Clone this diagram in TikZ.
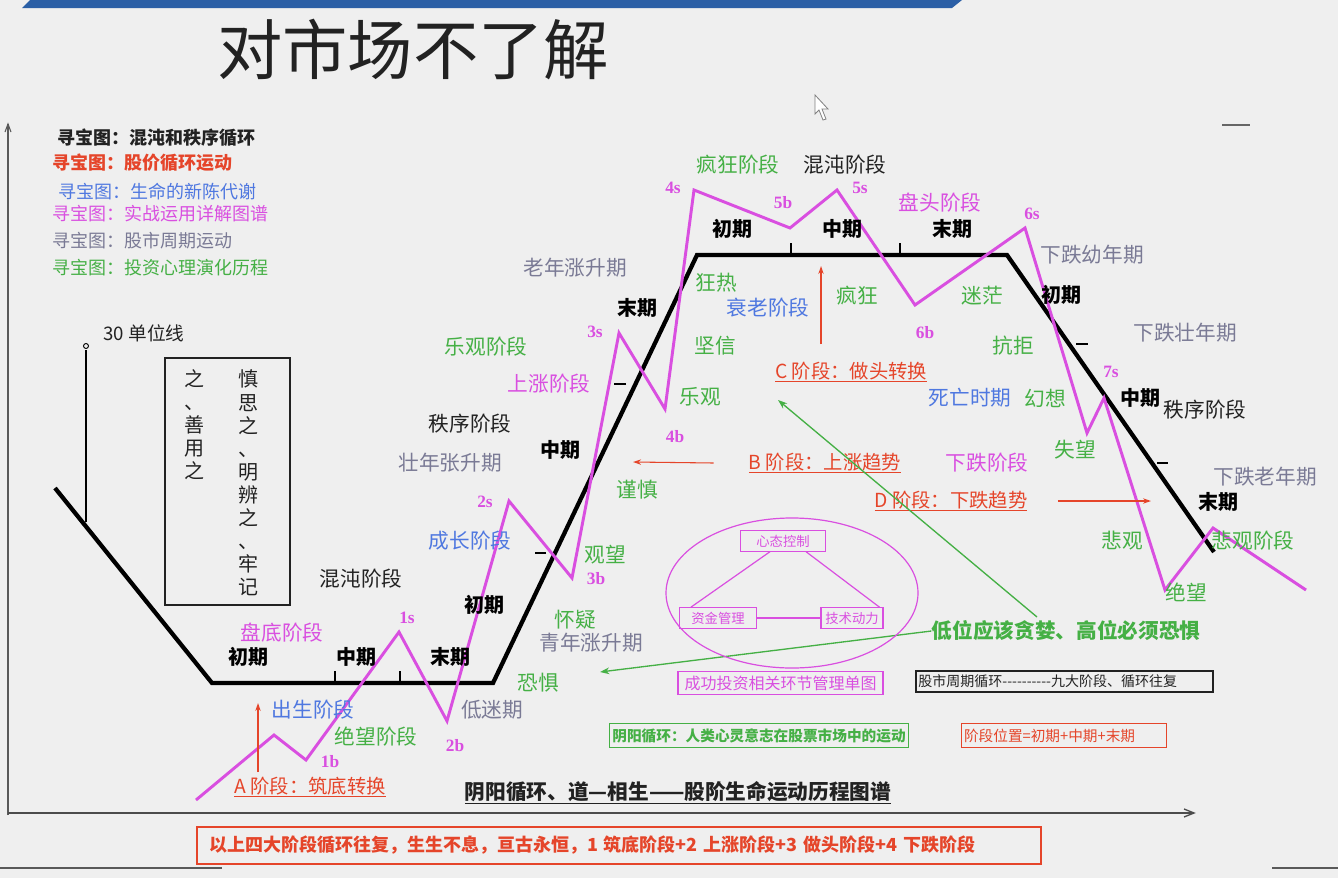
\documentclass[tikz,border=0pt]{standalone}
\usepackage{fontspec}
\setmainfont{Noto Sans CJK SC}
\newfontfamily\latf{Liberation Serif}
\usetikzlibrary{arrows.meta}
\definecolor{bgc}{HTML}{EFEFEF}
\definecolor{barblue}{HTML}{2B5FA6}
\definecolor{mag}{HTML}{D94FE0}
\definecolor{grn}{HTML}{45B045}
\definecolor{blu}{HTML}{4F78E0}
\definecolor{gry}{HTML}{7A7A95}
\definecolor{rd}{HTML}{E5452A}
\definecolor{dk}{HTML}{222222}
\newcommand\myfs[1]{\fontsize{#1}{#1}\selectfont}
\tikzset{
  lbl/.style={inner sep=0pt, font=\myfs{15.5}},
  tgreen/.style={lbl, text=grn},
  tblue/.style={lbl, text=blu},
  tgray/.style={lbl, text=gry},
  tmag/.style={lbl, text=mag},
  tblack/.style={lbl, text=dk},
  tbold/.style={inner sep=0pt, font=\myfs{15}\bfseries, text=black},
  tred/.style={inner sep=0pt, font=\myfs{14.5}, text=rd},
  ptl/.style={inner sep=0pt, font=\latf\myfs{13}\bfseries, text=mag},
  leg/.style={inner sep=0pt, anchor=west, font=\myfs{13.5}},
  magline/.style={draw=mag, line width=2.2pt, line join=miter},
  cycline/.style={draw=black, line width=3.2pt, line join=miter},
  tick/.style={draw=black, line width=1.8pt},
  redarr/.style={draw=rd, line width=0.8pt, -{Stealth[length=6pt,width=4pt,open]}},
  grnarr/.style={draw=grn, line width=1pt, -{Stealth[length=7pt,width=5pt]}},
  smbox/.style={draw=mag, line width=0.9pt, text=mag, font=\myfs{10}, inner xsep=2pt, inner ysep=3pt},
}
\begin{document}
\begin{tikzpicture}[x=0.75pt,y=-0.75pt]
\useasboundingbox (0,0) rectangle (1338,878);
\fill[bgc] (0,0) rectangle (1338,878);
% top bar
\fill[barblue] (22,8) -- (30,0) -- (962,0) -- (952,8) -- cycle;
% title
\node[inner sep=0pt, font=\myfs{49}, text=dk] (title) at (413,50) {对市场不了解};
% cursor
\draw[gray, fill=white, line width=0.6pt] (815,95) -- (815,114) -- (819,110) -- (823,120) -- (826,119) -- (822,109) -- (828,109) -- cycle;
% frame marks
\draw[gray!80!black, line width=0.8pt] (1222,125) -- (1250,125);
\draw[gray!70!black, line width=1pt] (8,815) -- (8,124);
\draw[gray!70!black, line width=0.8pt] (5,132) -- (8,124) -- (11,132);
\draw[gray!60!black, line width=1.6pt] (8,813) -- (1192,813);
\draw[gray!60!black, line width=1pt] (1184,809) -- (1194,813) -- (1184,817);
\draw[gray!70!black, line width=1.2pt] (0,868) -- (222,868);
\draw[gray!70!black, line width=1.2pt] (1272,868) -- (1338,868);

% legend
\node[leg, text=dk, font=\myfs{13.5}\bfseries] (lg1) at (57,138) {寻宝图：混沌和秩序循环};
\node[leg, text=rd, font=\myfs{13.5}\bfseries] (lg2) at (52,163) {寻宝图：股价循环运动};
\node[leg, text=blu] (lg3) at (58,192) {寻宝图：生命的新陈代谢};
\node[leg, text=mag] (lg4) at (52,214) {寻宝图：实战运用详解图谱};
\node[leg, text=gry] (lg5) at (52,241) {寻宝图：股市周期运动};
\node[leg, text=grn] (lg6) at (52,268) {寻宝图：投资心理演化历程};

% 30 unit line
\node[lbl, font=\myfs{14}, text=dk] (unit) at (144,333) {30 单位线};
\coordinate (u0) at (86,522);
\coordinate (u1) at (86,350);
\draw[black, line width=0.9pt] (u0) -- (u1);
\draw[black, line width=0.7pt] (86,346) circle (2.5);

% vertical text box
\node[draw=dk, line width=1pt, minimum width=125*0.75pt, minimum height=247*0.75pt, inner sep=0pt] (vbox) at (227.5,481.5) {};
\node[inner sep=0pt, align=center, font=\fontsize{15}{17.3}\selectfont, text=dk] (vr) at (248,483) {慎\\思\\之\\、\\明\\辨\\之\\、\\牢\\记};
\node[inner sep=0pt, anchor=north, align=center, font=\fontsize{15}{17.3}\selectfont, text=dk] (vl) at (194,369) {之\\、\\善\\用\\之};

% black cycle line
\coordinate (k0) at (55,488);
\coordinate (k1) at (212,683);
\coordinate (k2) at (493,683);
\coordinate (k3) at (697,255);
\coordinate (k4) at (1007,255);
\coordinate (k5) at (1214,552);
\draw[cycline] (k0) -- (k1) -- (k2) -- (k3) -- (k4) -- (k5);
\draw[tick] (335,683) -- (335,671);
\draw[tick] (400,683) -- (400,671);
\draw[tick] (791,255) -- (791,243);
\draw[tick] (900,255) -- (900,243);
\draw[tick] (546,553) -- (535,553);
\draw[tick] (626,384) -- (614,384);
\draw[tick] (1076,344) -- (1088,344);
\draw[tick] (1157,463) -- (1168,463);

% magenta price line
\coordinate (m0) at (196,800);
\coordinate (m1) at (274,735);
\coordinate (m2) at (306,760);
\coordinate (m3) at (399,632);
\coordinate (m4) at (447,721);
\coordinate (m5) at (509,501);
\coordinate (m6) at (572,578);
\coordinate (m7) at (619,333);
\coordinate (m8) at (665,409);
\coordinate (m9) at (694,190);
\coordinate (m10) at (790,228);
\coordinate (m11) at (837,190);
\coordinate (m12) at (915,305);
\coordinate (m13) at (1025,228);
\coordinate (m14) at (1087,433);
\coordinate (m15) at (1104,398);
\coordinate (m16) at (1165,590);
\coordinate (m17) at (1213,528);
\coordinate (m18) at (1306,590);
\draw[magline] (m0) -- (m1) -- (m2) -- (m3) -- (m4) -- (m5) -- (m6) -- (m7) -- (m8) -- (m9) -- (m10) -- (m11) -- (m12) -- (m13) -- (m14) -- (m15) -- (m16) -- (m17) -- (m18);

% point labels
\node[ptl] (p1s) at (407,618) {1s};
\node[ptl] (p1b) at (330,762) {1b};
\node[ptl] (p2b) at (455,746) {2b};
\node[ptl] (p2s) at (485,502) {2s};
\node[ptl] (p3b) at (596,579) {3b};
\node[ptl] (p3s) at (595,332) {3s};
\node[ptl] (p4b) at (675,437) {4b};
\node[ptl] (p4s) at (673,188) {4s};
\node[ptl] (p5b) at (783,203) {5b};
\node[ptl] (p5s) at (860,188) {5s};
\node[ptl] (p6b) at (925,333) {6b};
\node[ptl] (p6s) at (1032,214) {6s};
\node[ptl] (p7s) at (1111,372) {7s};

% labels
\node[tgreen] (n1) at (738,165) {疯狂阶段};
\node[tblack] (n2) at (845,165) {混沌阶段};
\node[tmag] (n3) at (940,203) {盘头阶段};
\node[tbold] (n4) at (732,229) {初期};
\node[tbold] (n5) at (842,229) {中期};
\node[tbold] (n6) at (952,229) {末期};
\node[tgray] (n7) at (1092,255) {下跌幼年期};
\node[tgray] (n8) at (575,268) {老年涨升期};
\node[tgreen] (n9) at (716,283) {狂热};
\node[tblue] (n10) at (768,308) {衰老阶段};
\node[tgreen] (n11) at (857,296) {疯狂};
\node[tgreen] (n12) at (982,296) {迷茫};
\node[tbold] (n13) at (1061,295) {初期};
\node[tbold] (n14) at (637,308) {末期};
\node[tgreen] (n15) at (486,347) {乐观阶段};
\node[tgreen] (n16) at (715,346) {坚信};
\node[tgreen] (n17) at (1013,346) {抗拒};
\node[tgray] (n18) at (1185,333) {下跌壮年期};
\node[tred] (nC) at (851,372) {\underline{C 阶段：做头转换}};
\node[tmag] (n19) at (549,384) {上涨阶段};
\node[tgreen] (n20) at (700,397) {乐观};
\node[tblue] (n21) at (970,398) {死亡时期};
\node[tgreen] (n22) at (1045,398) {幻想};
\node[tbold] (n23) at (1140,398) {中期};
\node[tblack] (n24) at (1205,410) {秩序阶段};
\node[tblack] (n25) at (470,424) {秩序阶段};
\node[tbold] (n26) at (560,450) {中期};
\node[tgray] (n27) at (450,463) {壮年张升期};
\node[tred] (nB) at (825,463) {\underline{B 阶段：上涨趋势}};
\node[tmag] (n28) at (987,463) {下跌阶段};
\node[tgreen] (n29) at (1075,450) {失望};
\node[tgreen] (n30) at (637,490) {谨慎};
\node[tgray] (n31) at (1265,477) {下跌老年期};
\node[tred] (nD) at (951,501) {\underline{D 阶段：下跌趋势}};
\node[tbold] (n32) at (1218,502) {末期};
\node[tblue] (n33) at (470,541) {成长阶段};
\node[tgreen] (n34) at (605,555) {观望};
\node[tgreen] (n35) at (1122,541) {悲观};
\node[tgreen] (n36) at (1253,541) {悲观阶段};
\node[tblack] (n37) at (361,579) {混沌阶段};
\node[tbold] (n38) at (484,605) {初期};
\node[tgreen] (n39) at (575,620) {怀疑};
\node[tgray] (n40) at (591,643) {青年涨升期};
\node[tgreen] (n41) at (1186,592) {绝望};
\node[inner sep=0pt, font=\myfs{15.5}\bfseries, text=grn] (nL) at (1066,631) {低位应该贪婪、高位必须恐惧};
\node[tmag] (n42) at (282,633) {盘底阶段};
\node[tbold] (n43) at (248,657) {初期};
\node[tbold] (n44) at (356,657) {中期};
\node[tbold] (n45) at (450,657) {末期};
\node[tgreen] (n46) at (538,683) {恐惧};
\node[tblue] (n47) at (313,710) {出生阶段};
\node[tgray] (n48) at (492,710) {低迷期};
\node[tgreen] (n49) at (376,737) {绝望阶段};
\node[tred] (nA) at (310,787) {\underline{A 阶段：筑底转换}};
\node[inner sep=0pt, font=\myfs{15.5}\bfseries, text=dk] (cap) at (678,793) {\underline{阴阳循环、道—相生——股阶生命运动历程图谱}};

% red arrows
\coordinate (aA) at (258,703);
\coordinate (aC) at (821,266);
\coordinate (aB) at (633,462);
\coordinate (aD) at (1151,501);
\draw[redarr] (258,772) -- (aA);
\draw[redarr] (821,344) -- (aC);
\draw[redarr] (nB.west) ++(-35,0) -- (aB);
\draw[redarr] (nD.east) ++(30,0) -- (aD);

% green arrows
\coordinate (gC) at (778,400);
\coordinate (gL) at (600,672);
\draw[grnarr] (1037,617) -- (gC);
\draw[grnarr] (nL.west) -- (gL);

% ellipse diagram
\draw[mag, line width=0.9pt] (792,593) ellipse [x radius=126, y radius=75];
\node[smbox, minimum width=85*0.75pt] (b1) at (783,541) {心态控制};
\node[smbox, minimum width=77*0.75pt] (b2) at (718,618) {资金管理};
\node[smbox, minimum width=62*0.75pt] (b3) at (852,618) {技术动力};
\draw[mag, line width=0.9pt] (b1.south west) ++(30,0) -- ([xshift=12*0.75pt]b2.north west);
\draw[mag, line width=0.9pt] (b1.south east) ++(-20,0) -- ([xshift=-4*0.75pt]b3.north east);
\draw[mag, line width=0.9pt] (b2.east) -- (b3.west);
\node[smbox, font=\myfs{12}, inner xsep=1pt, minimum width=205*0.75pt] (b4) at (780.5,683) {成功投资相关环节管理单图};
\node[draw=dk, line width=1.2pt, text=dk, font=\myfs{10.5}, inner xsep=2pt, inner ysep=3pt, text width=292*0.75pt, align=left, anchor=west] (b5) at (915,681.5) {股市周期循环{-}{-}{-}{-}{-}{-}{-}{-}{-}{-}九大阶段、循环往复};
\node[draw=grn, line width=1.2pt, text=grn, font=\myfs{11}\bfseries, inner xsep=2pt, inner ysep=3.5pt] (b6) at (759,735.5) {阴阳循环：人类心灵意志在股票市场中的运动};
\node[draw=rd, line width=1.2pt, text=rd, font=\myfs{11}, inner xsep=2pt, inner ysep=4pt, text width=200*0.75pt, align=left] (b7) at (1064,735.5) {阶段位置=初期+中期+末期};
\node[draw=rd, line width=1.2pt, text=rd, font=\myfs{13.5}\bfseries, text width=820*0.75pt, align=left, minimum height=37*0.75pt, inner xsep=9pt] (b8) at (619,845.5) {以上四大阶段循环往复，生生不息，亘古永恒，1 筑底阶段+2 上涨阶段+3 做头阶段+4 下跌阶段};
\end{tikzpicture}
\end{document}
